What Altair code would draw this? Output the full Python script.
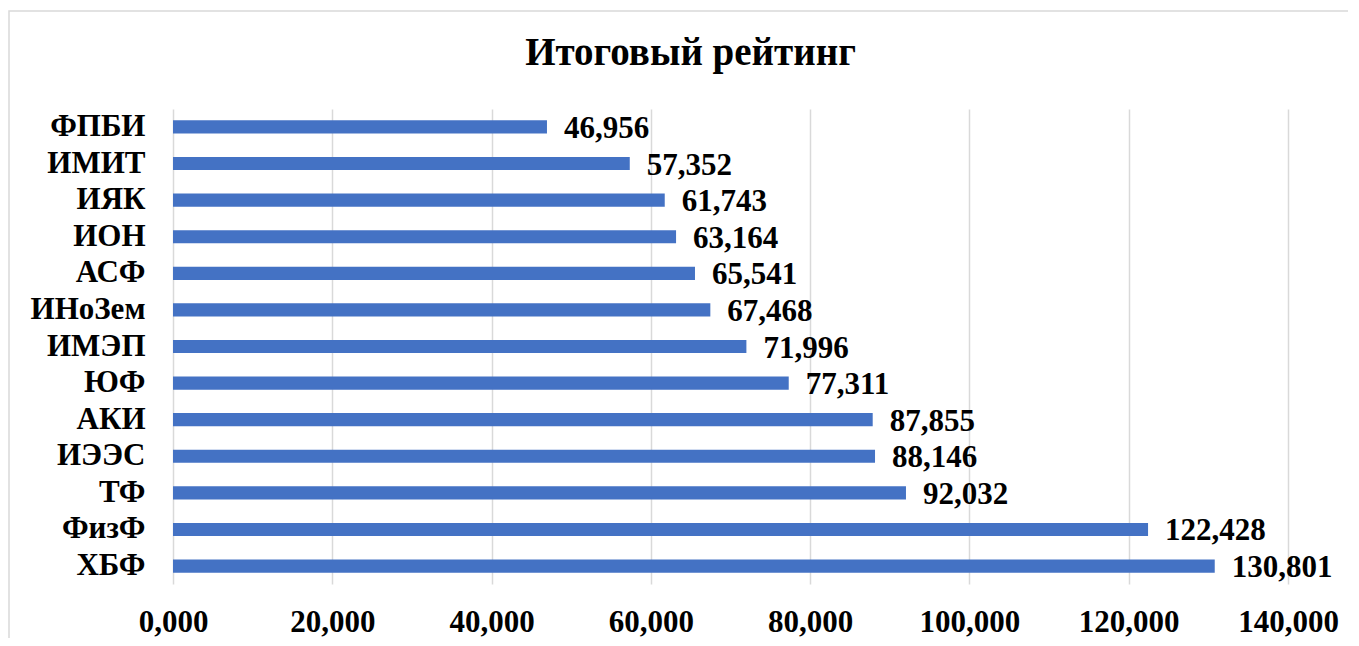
import altair as alt
import pandas as pd

categories = ["ФПБИ", "ИМИТ", "ИЯК", "ИОН", "АСФ", "ИНоЗем", "ИМЭП", "ЮФ",
              "АКИ", "ИЭЭС", "ТФ", "ФизФ", "ХБФ"]
values = [46.956, 57.352, 61.743, 63.164, 65.541, 67.468, 71.996, 77.311,
          87.855, 88.146, 92.032, 122.428, 130.801]
x_ticks = [0, 20, 40, 60, 80, 100, 120, 140]
title_text = "Итоговый рейтинг"

df = pd.DataFrame({"cat": categories, "val": values})
FONT = "Liberation Serif"
W, H = 1115, 475

fmt = "replace(format(datum.value, '.3f'), '.', ',')"

y_enc = alt.Y(
    "cat:N", sort=categories, title=None,
    scale=alt.Scale(paddingInner=0.64, paddingOuter=0.31),
    axis=alt.Axis(labelFont=FONT, labelFontSize=31, labelFontWeight="bold",
                  labelColor="black", ticks=False, domain=False, grid=False,
                  labelPadding=28),
)
x_enc = alt.X(
    "val:Q", title=None,
    scale=alt.Scale(domain=[0, 140], nice=False),
    axis=alt.Axis(values=x_ticks, labelExpr=fmt, labelFont=FONT, labelFontSize=31,
                  labelFontWeight="bold", labelColor="black", ticks=False,
                  domain=False, grid=True, gridColor="#d9d9d9", gridWidth=1.5,
                  labelPadding=23, labelFlush=False, labelOverlap=False),
)

bars = alt.Chart(df).mark_bar(color="#4472C4").encode(x=x_enc, y=y_enc)

labels = alt.Chart(df).transform_calculate(
    lbl="replace(format(datum.val, '.3f'), '.', ',')"
).mark_text(align="left", baseline="middle", dx=17, dy=2, font=FONT,
            fontSize=31, fontWeight="bold", color="black").encode(
    x=alt.X("val:Q"), y=alt.Y("cat:N", sort=categories), text="lbl:N")

frame = alt.Chart(pd.DataFrame({"a": [0]})).mark_rect(
    fillOpacity=0, stroke="#d9d9d9", strokeWidth=1.5).encode(
    x=alt.value(-164), x2=alt.value(W + 300),
    y=alt.value(-98), y2=alt.value(H + 300))

chart = alt.layer(frame, bars, labels).properties(
    width=W, height=H,
    title=alt.TitleParams(title_text, font=FONT, fontSize=39, fontWeight="bold",
                          color="black", anchor="middle", dx=-40, frame="group",
                          baseline="alphabetic", offset=-94),
    padding={"left": 165, "top": 101, "right": 60, "bottom": 54},
    autosize=alt.AutoSizeParams(type="none"),
).configure_view(stroke=None)

chart.save("out.html", embed_options={"renderer": "svg", "actions": False})
